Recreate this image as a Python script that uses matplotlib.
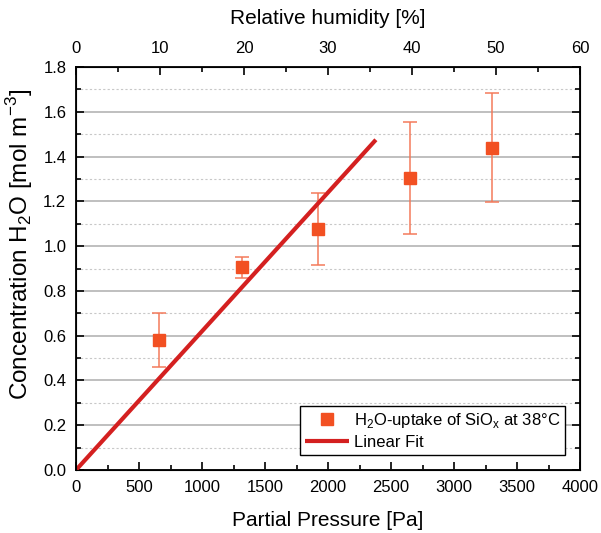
import matplotlib
matplotlib.use("Agg")
import matplotlib.pyplot as plt
import numpy as np
from matplotlib.ticker import MultipleLocator

plt.rcParams["font.family"] = ["Liberation Sans", "DejaVu Sans"]

# measured uptake
pressure = [660, 1320, 1920, 2650, 3300]
conc = [0.58, 0.905, 1.075, 1.305, 1.44]
conc_err = [0.12, 0.048, 0.16, 0.25, 0.245]

# linear fit through origin
fit_x = [0, 2380]
fit_y = [0, 1.475]

# top axis: relative humidity
rh_ticks = [0, 10, 20, 30, 40, 50, 60]

fig = plt.figure(figsize=(6.01, 5.33), dpi=100)
ax = fig.add_axes([76 / 601, 1 - 470 / 533, 504 / 601, 403 / 533])

ax.set_xlim(0, 4000)
ax.set_ylim(0, 1.8)

ax.yaxis.set_major_locator(MultipleLocator(0.2))
ax.yaxis.set_minor_locator(MultipleLocator(0.1))
ax.xaxis.set_major_locator(MultipleLocator(500))
ax.xaxis.set_minor_locator(MultipleLocator(250))

ax.grid(axis="y", which="major", color="#b4b4b4", linewidth=1.2)
ax.grid(axis="y", which="minor", color="#c8c8c8", linewidth=0.8, linestyle=(0, (2, 2)))
ax.set_axisbelow(True)

ax.errorbar(pressure, conc, yerr=conc_err, fmt="none", ecolor="#f47858",
            elinewidth=1.2, capsize=5, capthick=1.2, alpha=0.9, zorder=3)
ax.plot(pressure, conc, "s", color="#f25022", markersize=9, zorder=4,
        label="H$_\\mathregular{2}$O-uptake of SiO$_\\mathregular{x}$ at 38°C")
ax.plot(fit_x, fit_y, color="#d42020", linewidth=3, zorder=5, label="Linear Fit",
        solid_capstyle="butt")

ax.tick_params(which="both", direction="in", top=False, right=True, labelsize=12, pad=7)
ax.tick_params(which="major", length=6, width=1.2)
ax.tick_params(which="minor", length=3.5, width=1.2)
ax.yaxis.set_major_formatter(matplotlib.ticker.FormatStrFormatter("%.1f"))
for s in ax.spines.values():
    s.set_linewidth(1.3)

ax.set_xlabel("Partial Pressure [Pa]", fontsize=15, labelpad=12)
ax.set_ylabel("Concentration H$_\\mathregular{2}$O [mol m$^\\mathregular{-3}$]",
              fontsize=17.5)
ax.yaxis.set_label_coords(-0.082, 0.56)

top = ax.twiny()
top.set_xlim(0, 60)
top.set_xticks(rh_ticks)
top.xaxis.set_minor_locator(MultipleLocator(5))
top.tick_params(which="both", direction="in", labelsize=12, pad=8)
top.tick_params(which="major", length=6, width=1.2)
top.tick_params(which="minor", length=3.5, width=1.2)
top.set_xlabel("Relative humidity [%]", fontsize=15, labelpad=12)

leg = ax.legend(loc="lower right", fontsize=12, frameon=True, fancybox=False,
                edgecolor="black", framealpha=1, handlelength=2.6,
                borderaxespad=0.9, handletextpad=0.3, borderpad=0.3,
                labelspacing=0.3)
leg.get_frame().set_linewidth(1.0)

fig.savefig("out.png", dpi=100)
